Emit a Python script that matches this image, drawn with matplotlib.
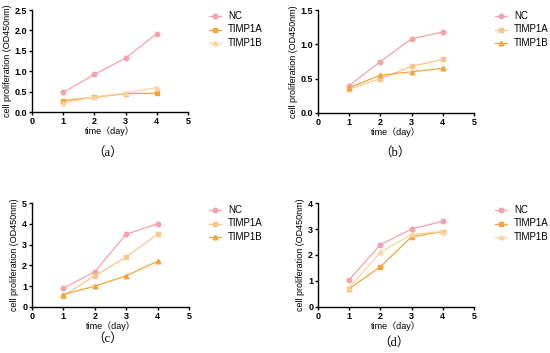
import matplotlib
matplotlib.use("Agg")
import matplotlib.pyplot as plt

days = [1, 2, 3, 4]
series_names = ["NC", "TIMP1A", "TIMP1B"]

a_nc = [0.48, 0.92, 1.32, 1.92]
a_1a = [0.28, 0.36, 0.45, 0.46]
a_1b = [0.22, 0.37, 0.46, 0.60]

b_nc = [0.40, 0.75, 1.08, 1.18]
b_1a = [0.35, 0.50, 0.68, 0.78]
b_1b = [0.37, 0.55, 0.60, 0.65]

c_nc = [0.90, 1.70, 3.50, 4.00]
c_1a = [0.55, 1.50, 2.40, 3.50]
c_1b = [0.60, 1.00, 1.50, 2.20]

d_nc = [1.05, 2.40, 3.00, 3.30]
d_1a = [0.70, 1.55, 2.70, 2.90]
d_1b = [0.75, 2.10, 2.80, 2.90]

captions = ["（a）", "（b）", "（c）", "（d）"]
ymax = [2.5, 1.5, 5, 4]
yticks = [[0.0, 0.5, 1.0, 1.5, 2.0, 2.5],
          [0.0, 0.5, 1.0, 1.5],
          [0, 1, 2, 3, 4, 5],
          [0, 1, 2, 3, 4]]
ytick_labels = [["0.0", "0.5", "1.0", "1.5", "2.0", "2.5"],
                ["0.0", "0.5", "1.0", "1.5"],
                ["0", "1", "2", "3", "4", "5"],
                ["0", "1", "2", "3", "4"]]
xticks = [0, 1, 2, 3, 4, 5]

PINK = "#F4A3AC"
ORANGE = "#F6A33C"
LIGHT = "#FBD5A0"
MID = "#F9C68A"

panels = [
    (a_nc, a_1a, a_1b, [PINK, ORANGE, LIGHT]),
    (b_nc, b_1a, b_1b, [PINK, MID, ORANGE]),
    (c_nc, c_1a, c_1b, [PINK, MID, ORANGE]),
    (d_nc, d_1a, d_1b, [PINK, ORANGE, LIGHT]),
]

W, H = 550, 353
fig = plt.figure(figsize=(5.5, 3.53), dpi=100)

# axes boxes in pixel coords: (x0, y_top, x1, y_bottom)
boxes = [(32, 10, 188, 112), (318, 10, 474, 113),
         (32, 203, 189, 307), (318, 203, 474, 307)]
legend_pos = [(217, 16), (503, 16), (217, 210), (503, 210)]
cap_pos = [(108, 153), (395, 153), (108, 339), (394, 343)]
markers = ["o", "s", "^"]

for i, (nc, t1a, t1b, cols) in enumerate(panels):
    x0, yt, x1, yb = boxes[i]
    ax = fig.add_axes([x0 / W, 1 - yb / H, (x1 - x0) / W, (yb - yt) / H])
    for vals, col, mk, name in zip([nc, t1a, t1b], cols, markers, series_names):
        ax.plot(days, vals, color=col, marker=mk, markersize=3.3, lw=0.9, label=name)
    ax.set_xlim(0, 5)
    ax.set_ylim(0, ymax[i])
    ax.set_xticks(xticks)
    ax.set_xticklabels([str(t) for t in xticks], fontsize=6.5, fontweight="bold", family="Liberation Sans")
    ax.set_yticks(yticks[i])
    ax.set_yticklabels(ytick_labels[i], fontsize=6.5, fontweight="bold", family="Liberation Sans")
    for s in ["top", "right"]:
        ax.spines[s].set_visible(False)
    for s in ["left", "bottom"]:
        ax.spines[s].set_linewidth(1.0)
    ax.tick_params(length=2.5, width=1.0, pad=1)
    ax.set_ylabel("cell proliferation (OD450nm)", fontsize=6.5, family="Liberation Sans", labelpad=2)
    ax.set_xlabel("time（day）", fontsize=6.5, family=["Liberation Sans", "Noto Sans CJK SC"], labelpad=0)
    # legend
    lx, ly = legend_pos[i]
    for j, (col, mk, name) in enumerate(zip(cols, markers, series_names)):
        yy = ly + j * 13.5
        fig.add_artist(plt.Line2D([(lx - 8) / W, (lx + 4) / W], [1 - yy / H, 1 - yy / H],
                                  color=col, lw=0.9))
        fig.add_artist(plt.Line2D([(lx - 2) / W], [1 - yy / H], color=col, marker=mk,
                                  markersize=3.3, lw=0))
        fig.text((lx + 11) / W, 1 - yy / H, name, fontsize=7, va="center", ha="left",
                 family="Liberation Sans")
    cx, cy = cap_pos[i]
    fig.text(cx / W, 1 - cy / H, captions[i], fontsize=9, ha="center", va="center",
             family=["Liberation Serif", "Noto Sans CJK SC"])

fig.savefig("out.png", dpi=100)
